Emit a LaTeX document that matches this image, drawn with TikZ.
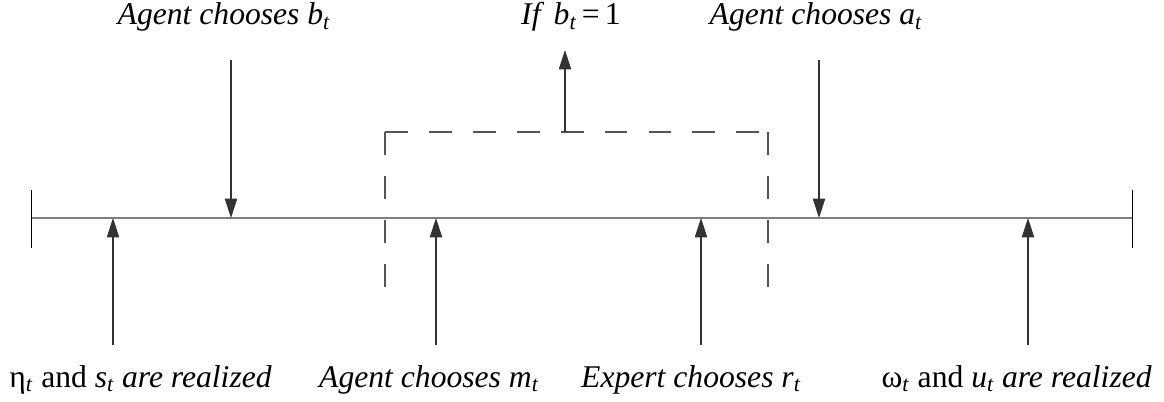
\documentclass[tikz,border=0pt]{standalone}
\usepackage{fontspec}
\setmainfont{Liberation Serif}
\usetikzlibrary{arrows.meta}

% subscript t in italics
\newcommand{\subt}{\textsubscript{\textit{t}}}

\begin{document}
\begin{tikzpicture}[x=0.02cm,y=-0.02cm,
    label/.style={font=\fontsize{18}{21}\selectfont\itshape, anchor=base, inner sep=0pt},
    event/.style={draw=arrowColour, line width=0.6pt, -{Triangle[length=11pt,width=7pt]}},
    dashbox/.style={boxColour, line width=0.6pt, dash pattern=on 13pt off 12pt}]
    % Define colours
    \definecolor{lineColour}{HTML}{808080}
    \definecolor{arrowColour}{HTML}{333333}
    \definecolor{boxColour}{HTML}{555555}

    % Fix the picture size
    \useasboundingbox (0,0) rectangle (1164,402);

    % Draw the timeline
    \coordinate (start) at (31,218);
    \coordinate (end) at (1132,218);
    \draw[lineColour, line width=1.1pt] (start) -- (end);
    \draw[line width=0.4pt] ([yshift=0.56cm]start) -- ([yshift=-0.6cm]start);
    \draw[line width=0.4pt] ([yshift=0.56cm]end) -- ([yshift=-0.6cm]end);

    % Points on the timeline
    \coordinate (eta) at (113,218);
    \coordinate (b) at (231,218);
    \coordinate (m) at (436,218);
    \coordinate (r) at (701,218);
    \coordinate (a) at (819,218);
    \coordinate (omega) at (1028,218);

    % Labels below
    \node[label, anchor=base west] (etaLabel) at (9,387)
        {{\upshape η\subt{} and} s\subt{} are realized};
    \node[label] (mLabel) at (429,387) {Agent chooses m\subt};
    \node[label] (rLabel) at (691,387) {Expert chooses r\subt};
    \node[label, anchor=base east] (omegaLabel) at (1152,387)
        {{\upshape ω\subt{} and} u\subt{} are realized};

    % Labels above
    \node[label] (bLabel) at (224,25) {Agent chooses b\subt};
    \node[label] (ifLabel) at (571,25) {If\, b\subt\,{\upshape=\,1}};
    \node[label] (aLabel) at (816,25) {Agent chooses a\subt};

    % Arrows from below
    \foreach \p in {eta,m,r,omega}
        \draw[event] ([yshift=-2.54cm]\p) -- (\p);

    % Arrows from above
    \foreach \p in {b,a}
        \draw[event] ([yshift=3.16cm]\p) -- (\p);

    % Dashed box
    \coordinate (boxLeft) at (385,298);
    \coordinate (boxRight) at (768,298);
    \coordinate (cornerLeft) at (385,132);
    \coordinate (cornerRight) at (768,132);
    \coordinate (boxTop) at (565,132);
    \draw[dashbox] (cornerLeft) -- (boxLeft);
    \draw[dashbox] (cornerRight) -- (boxRight);
    \draw[dashbox] (cornerLeft) -- (cornerRight);
    \draw[event] (boxTop) -- ([yshift=1.64cm]boxTop);

\end{tikzpicture}
\end{document}
